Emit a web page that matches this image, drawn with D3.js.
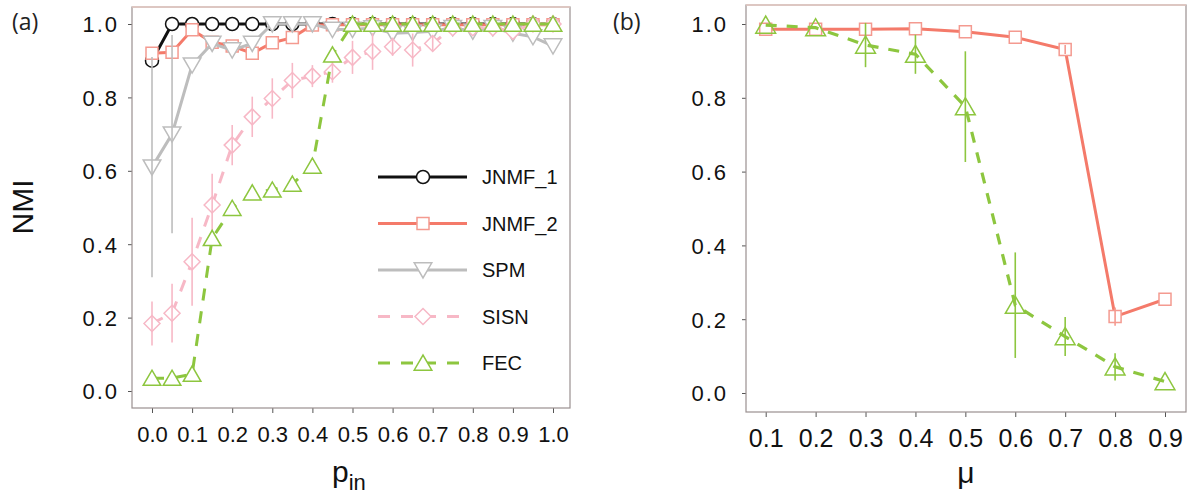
<!DOCTYPE html>
<html><head><meta charset="utf-8">
<script src="https://cdn.jsdelivr.net/npm/d3@7"></script>
<style>body{margin:0;background:#fff}svg{display:block}</style>
</head><body>
<svg id="c" width="1188" height="495"></svg>
<script>
// ---------- data ----------
const pin = [0,0.05,0.1,0.15,0.2,0.25,0.3,0.35,0.4,0.45,0.5,0.55,0.6,0.65,0.7,0.75,0.8,0.85,0.9,0.95,1.0];
const jnmf1A = [0.90,1,1,1,1,1,1,1,1,1,1,1,1,1,1,1,1,1,1,1,1];
const jnmf2A = [0.92,0.923,0.984,0.95,0.94,0.92,0.949,0.963,0.997,0.998,0.998,0.998,0.998,0.998,0.998,0.998,0.998,0.998,0.998,0.998,0.998];
const spmA   = [0.61,0.70,0.888,0.947,0.929,0.947,1.0,1.0,1.0,0.985,0.985,0.989,0.975,0.977,0.98,0.99,0.98,0.99,0.975,0.965,0.94];
const spmErrA= [0.30,0.27,0,0,0,0,0,0,0,0,0,0,0,0,0,0,0,0,0,0,0];
const sisnA  = [0.184,0.212,0.352,0.507,0.670,0.747,0.797,0.846,0.858,0.870,0.909,0.925,0.938,0.929,0.947,0.99,0.99,0.99,0.98,1.0,1.0];
const sisnErrA=[0.06,0.08,0.12,0.085,0.055,0.055,0.055,0.048,0.03,0.03,0.045,0.05,0.025,0.045,0.02,0,0,0,0,0,0];
const fecA   = [0.035,0.035,0.046,0.416,0.498,0.54,0.548,0.564,0.613,0.916,1,1,1,1,1,1,1,1,1,1,1];

const mu = [0.1,0.2,0.3,0.4,0.5,0.6,0.7,0.8,0.9];
const jnmf2B = [0.986,0.986,0.986,0.987,0.979,0.964,0.931,0.207,0.254];
const jnmf2ErrB = [0,0,0,0,0,0,0.012,0.025,0];
const fecB = [0.997,0.99,0.943,0.918,0.776,0.238,0.153,0.071,0.031];
const fecErrB = [0,0,0.06,0.053,0.15,0.143,0.053,0.037,0];

const yTicks = [0,0.2,0.4,0.6,0.8,1.0];
const xTicksA = [0,0.1,0.2,0.3,0.4,0.5,0.6,0.7,0.8,0.9,1.0];
const xTicksB = [0.1,0.2,0.3,0.4,0.5,0.6,0.7,0.8,0.9];
const legendNames = ["JNMF_1","JNMF_2","SPM","SISN","FEC"];

// ---------- styles ----------
const C = {j1:"#111111", j2:"#f47a6a", j2m:"#f49a90", spm:"#bdbdbd", sisn:"#f7b8c6", fec:"#8dc63f"};
const FONT = "'Liberation Sans', Arial, sans-serif";
const svg = d3.select("#c");

const downTri = (h)=>`M${-h*0.55},${-h*0.45}L${h*0.55},${-h*0.45}L0,${h*0.5}Z`;
const upTri = (h)=>`M${-h*0.55},${h*0.45}L${h*0.55},${h*0.45}L0,${-h*0.5}Z`;
const diamond = (s)=>`M0,${-s/2}L${s/2},0L0,${s/2}L${-s/2},0Z`;
const square = (s)=>`M${-s/2},${-s/2}h${s}v${s}h${-s}Z`;
const circle = (s)=>`M${-s/2},0a${s/2},${s/2} 0 1,0 ${s},0a${s/2},${s/2} 0 1,0 ${-s},0Z`;

function panel(o){
  const g = svg.append("g");
  const xa = d3.axisBottom(o.x).tickValues(o.xt).tickSize(5).tickFormat(d3.format(".1f"));
  const gx = g.append("g").attr("transform",`translate(0,${o.by1})`).call(xa);
  gx.select(".domain").remove();
  gx.selectAll("line").attr("stroke","#555").attr("stroke-width",1);
  gx.selectAll("text").attr("font-family",FONT).attr("font-size",o.xfs).attr("fill","#111")
    .attr("y",o.xly).attr("dy","0");
  const ya = d3.axisLeft(o.y).tickValues(yTicks).tickSize(4).tickFormat(d3.format(".1f"));
  const gy = g.append("g").attr("transform",`translate(${o.bx0},0)`).call(ya);
  gy.select(".domain").remove();
  gy.selectAll("line").attr("stroke","#555").attr("stroke-width",1);
  gy.selectAll("text").attr("font-family",FONT).attr("font-size",22).attr("fill","#111")
    .attr("letter-spacing","2px").attr("x",-o.ylx).attr("dy","0.36em");
  g.append("rect").attr("x",o.bx0).attr("y",o.by0).attr("width",o.bx1-o.bx0).attr("height",o.by1-o.by0)
    .attr("fill","none").attr("stroke","#9a9090").attr("stroke-width",1.2);
  g.append("line").attr("x1",o.bx0).attr("x2",o.bx1).attr("y1",o.by0).attr("y2",o.by0)
    .attr("stroke","#e6cbc4").attr("stroke-width",1.4);
  return g;
}

function series(g, xs, ys, errs, x, y, st){
  const pts = xs.map((d,i)=>({x:d,y:ys[i],e:errs?errs[i]:0}));
  g.append("path").datum(pts).attr("fill","none").attr("stroke",st.line).attr("stroke-width",st.lw)
    .attr("stroke-dasharray",st.dash||null)
    .attr("d",d3.line().x(d=>x(d.x)).y(d=>y(d.y)));
  g.selectAll(null).data(pts).enter().append("path")
    .attr("transform",d=>`translate(${x(d.x)},${y(d.y)})`)
    .attr("d",st.shape(st.size)).attr("fill",st.fill||"#fff").attr("stroke",st.mark).attr("stroke-width",1.5);
  g.selectAll(null).data(pts.filter(d=>d.e>0)).enter().append("line")
    .attr("x1",d=>x(d.x)).attr("x2",d=>x(d.x)).attr("y1",d=>y(d.y+d.e)).attr("y2",d=>y(d.y-d.e))
    .attr("stroke",st.mark).attr("stroke-width",1.6);
}

// ---------- panel (a) ----------
const xA = d3.scaleLinear().domain([0,1]).range([152,553]);
const yA = d3.scaleLinear().domain([0,1]).range([391,24]);
const gA = panel({x:xA,y:yA,xt:xTicksA,bx0:132,bx1:570,by0:7,by1:408,xfs:22,xly:34,ylx:13});

const stA = {
  j1:{line:C.j1,mark:C.j1,lw:3,shape:circle,size:13},
  j2:{line:C.j2,mark:C.j2m,lw:3,shape:square,size:12},
  spm:{line:C.spm,mark:C.spm,lw:3,shape:downTri,size:16},
  sisn:{line:C.sisn,mark:C.sisn,lw:3,shape:diamond,size:16,dash:"12,11"},
  fec:{line:C.fec,mark:C.fec,lw:3,shape:upTri,size:16,dash:"12,11"}
};
series(gA,pin,jnmf1A,null,xA,yA,stA.j1);
series(gA,pin,jnmf2A,null,xA,yA,stA.j2);
series(gA,pin,spmA,spmErrA,xA,yA,stA.spm);
series(gA,pin,sisnA,sisnErrA,xA,yA,stA.sisn);
series(gA,pin,fecA,null,xA,yA,stA.fec);

// legend
const legKeys = ["j1","j2","spm","sisn","fec"];
const legY = d3.scalePoint().domain(legendNames).range([177,363]);
legendNames.forEach((n,i)=>{
  const st = stA[legKeys[i]], yy = legY(n);
  gA.append("line").attr("x1",378).attr("x2",467).attr("y1",yy).attr("y2",yy)
    .attr("stroke",st.line).attr("stroke-width",3).attr("stroke-dasharray",st.dash||null);
  gA.append("path").attr("transform",`translate(423,${yy})`).attr("d",st.shape(st.size))
    .attr("fill","#fff").attr("stroke",st.mark).attr("stroke-width",1.5);
  gA.append("text").attr("x",482).attr("y",yy).attr("dy","0.36em").attr("font-family",FONT)
    .attr("font-size",20).attr("fill","#111").text(n);
});

// labels
svg.append("text").attr("x",12).attr("y",30).attr("font-family","'Open Sans', sans-serif").attr("font-size",23).attr("fill","#222").text("(a)");
svg.append("text").attr("x",613).attr("y",30).attr("font-family","'Open Sans', sans-serif").attr("font-size",23).attr("fill","#222").text("(b)");
svg.append("text").attr("transform","translate(33,207) rotate(-90)").attr("text-anchor","middle")
  .attr("font-family",FONT).attr("font-size",30).attr("fill","#111").text("NMI");
const pl = svg.append("text").attr("x",332).attr("y",482).attr("font-family",FONT).attr("font-size",30).attr("fill","#111");
pl.append("tspan").text("p");
pl.append("tspan").attr("font-size",22).attr("dy",8).text("in");

// ---------- panel (b) ----------
const xB = d3.scaleLinear().domain([0.1,0.9]).range([765.7,1165]);
const yB = d3.scaleLinear().domain([0,1]).range([393,24]);
const gB = panel({x:xB,y:yB,xt:xTicksB,bx0:746,bx1:1186,by0:5,by1:412,xfs:25,xly:35,ylx:18});
series(gB,mu,jnmf2B,jnmf2ErrB,xB,yB,{line:C.j2,mark:C.j2m,lw:3,shape:square,size:12});
series(gB,mu,fecB,fecErrB,xB,yB,{line:C.fec,mark:C.fec,lw:3.2,shape:upTri,size:18,dash:"11,10",fill:"none"});
svg.append("text").attr("x",966).attr("y",483).attr("text-anchor","middle").attr("font-family",FONT)
  .attr("font-size",30).attr("fill","#111").text("μ");
</script>
</body></html>
